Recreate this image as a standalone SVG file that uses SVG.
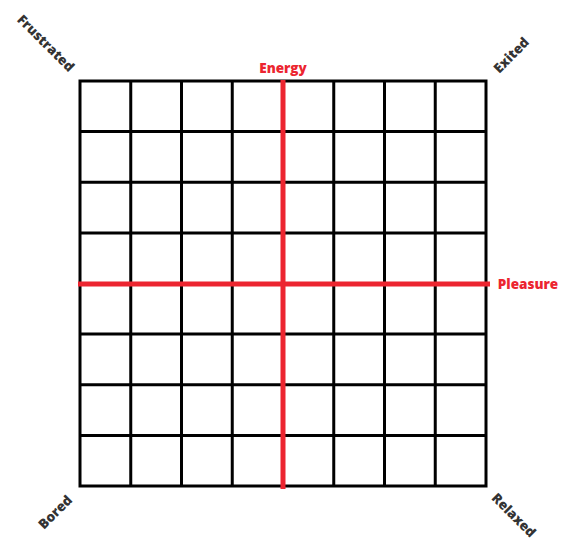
<svg xmlns="http://www.w3.org/2000/svg" width="564" height="541" viewBox="0 0 564 541">
<style>
.g{stroke:#000;stroke-width:3;fill:none}
.r{stroke:#ec2530;stroke-width:5}
.lab{font-family:"Open Sans","DejaVu Sans",sans-serif;font-weight:800;font-size:13.5px;text-anchor:middle;dominant-baseline:central}
.red{fill:#ec2530}
.dk{fill:#333}
</style>
<rect width="564" height="541" fill="#fff"/>
<g id="grid">
<rect class="g" x="80" y="81" width="406" height="405"/>
<path class="g" d="M130.75 81V486M181.5 81V486M232.25 81V486M283 81V486M333.75 81V486M384.5 81V486M435.25 81V486M80 131.6H486M80 182.25H486M80 232.9H486M80 283.5H486M80 334.1H486M80 384.75H486M80 435.4H486"/>
</g>
<g id="axes">
<line class="r" x1="283" y1="80" x2="283" y2="489"/>
<line class="r" x1="78" y1="284" x2="490" y2="284"/>
</g>
<g id="labels">
<text class="lab red" x="283" y="68">Energy</text>
<text class="lab red" x="528" y="284">Pleasure</text>
<text class="lab dk" transform="translate(46,43) rotate(45)">Frustrated</text>
<text class="lab dk" transform="translate(511,55) rotate(-45)">Exited</text>
<text class="lab dk" transform="translate(55,512) rotate(-45)">Bored</text>
<text class="lab dk" transform="translate(514,515) rotate(45)">Relaxed</text>
</g>
</svg>
